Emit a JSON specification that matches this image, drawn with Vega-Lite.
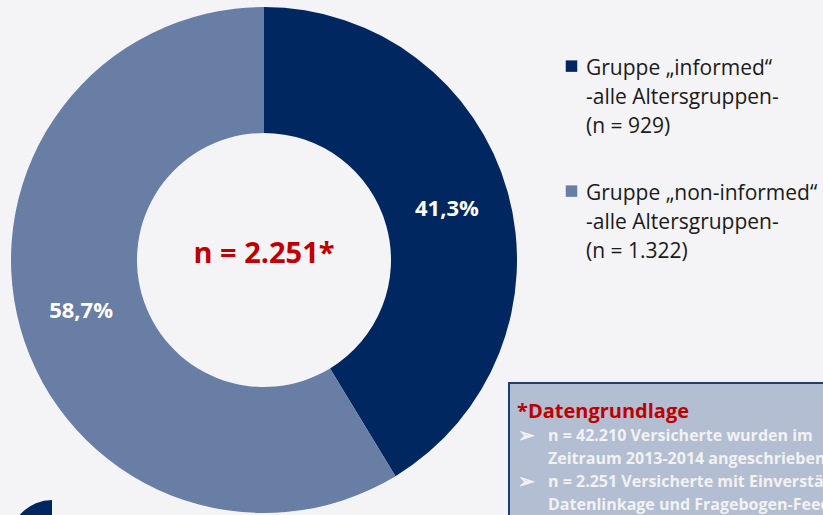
{
  "$schema": "https://vega.github.io/schema/vega-lite/v6.json",
  "width": 823,
  "height": 515,
  "padding": 0,
  "autosize": {"type": "fit", "contains": "padding"},
  "background": "#f4f4f7",
  "config": {
    "view": {"stroke": null},
    "font": "Open Sans",
    "style": {"guide-label": {"lineHeight": 29}}
  },
  "layer": [
    {
      "data": {"values": [
        {"group": "informed", "pct": 41.3, "label": "41,3%"},
        {"group": "non-informed", "pct": 58.7, "label": "58,7%"}
      ]},
      "layer": [
        {
          "mark": {"type": "arc", "x": 264, "y": 260, "innerRadius": 127, "outerRadius": 253},
          "encoding": {
            "theta": {"field": "pct", "type": "quantitative", "stack": true},
            "color": {
              "field": "group", "type": "nominal",
              "scale": {"domain": ["informed", "non-informed"], "range": ["#00275f", "#687ea4"]},
              "legend": {
                "orient": "none", "legendX": 561, "legendY": 47,
                "title": null,
                "symbolType": "M-1,0.5H1V2.5H-1Z", "symbolSize": 132, "symbolStrokeWidth": 0,
                "labelFontSize": 21, "labelColor": "#1a1a1a", "labelLimit": 0,
                "labelBaseline": "top", "labelOffset": 4,
                "rowPadding": 35,
                "labelExpr": "datum.value == 'informed' ? ['Gruppe „informed“', '-alle Altersgruppen-', '(n = 929)'] : ['Gruppe „non-informed“', '-alle Altersgruppen-', '(n = 1.322)']"
              }
            }
          }
        },
        {
          "mark": {"type": "text", "x": 264, "y": 260, "radius": 190, "fontSize": 22, "fontWeight": "bold", "color": "white"},
          "encoding": {
            "theta": {"field": "pct", "type": "quantitative", "stack": true},
            "order": {"field": "group"},
            "text": {"field": "label"}
          }
        }
      ]
    },
    {
      "data": {"values": [{}]},
      "layer": [
        {"mark": {"type": "arc", "x": 52, "y": 542, "innerRadius": 0, "outerRadius": 42, "theta": -1.5708, "theta2": 0, "fill": "#00275f"}},
        {"mark": {"type": "text", "x": 264, "y": 254, "text": "n = 2.251*", "fontSize": 29, "fontWeight": "bold", "color": "#c00000", "align": "center", "baseline": "middle"}},
        {"mark": {"type": "rect", "x": 509, "y": 383, "x2": 830, "y2": 525, "fill": "#b3bed3", "stroke": "#1f3c73", "strokeWidth": 2}},
        {"mark": {"type": "text", "x": 517, "y": 418, "text": "*Datengrundlage", "fontSize": 20, "fontWeight": "bold", "color": "#c00000", "align": "left", "baseline": "alphabetic"}},
        {"mark": {"type": "text", "x": 518, "y": 442, "text": "➢", "fontSize": 20, "fontWeight": "bold", "color": "#f2f2f2", "align": "left", "baseline": "alphabetic"}},
        {"mark": {"type": "text", "x": 518, "y": 488, "text": "➢", "fontSize": 20, "fontWeight": "bold", "color": "#f2f2f2", "align": "left", "baseline": "alphabetic"}},
        {"mark": {"type": "text", "x": 548, "y": 441, "text": ["n = 42.210 Versicherte wurden im", "Zeitraum 2013-2014 angeschrieben", "n = 2.251 Versicherte mit Einverständnis zur", "Datenlinkage und Fragebogen-Feedback"], "lineHeight": 23, "fontSize": 16, "fontWeight": "bold", "color": "#f2f2f2", "align": "left", "baseline": "alphabetic"}}
      ]
    }
  ]
}
